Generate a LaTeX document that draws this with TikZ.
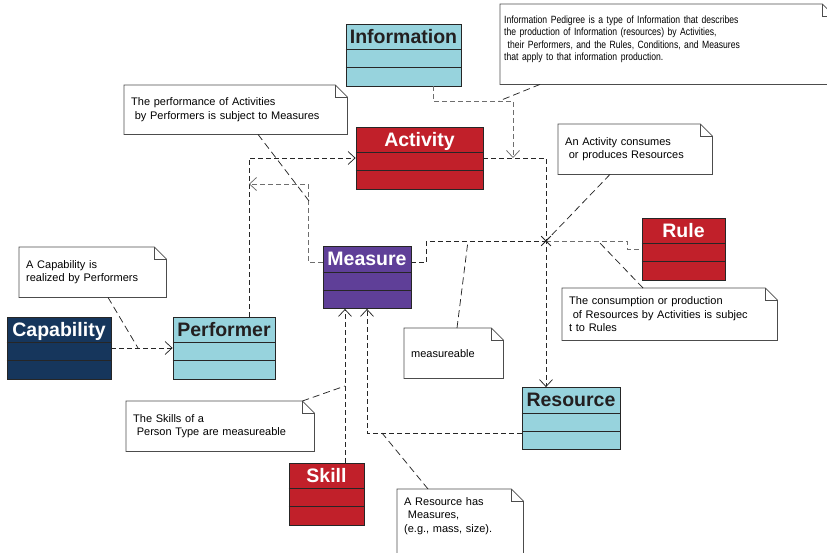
\documentclass[tikz,border=0pt]{standalone}
\usepackage{fontspec}
\setmainfont{Liberation Sans}
\newfontfamily\narrowfont[FakeStretch=0.82]{Liberation Sans}
\usetikzlibrary{positioning,arrows.meta,shapes.misc}

\definecolor{classblue}{HTML}{97D3DD}
\definecolor{classred}{HTML}{C1202A}
\definecolor{classpurple}{HTML}{5F3F98}
\definecolor{classnavy}{HTML}{16365C}
\definecolor{titledark}{HTML}{231F20}
\definecolor{linkgrey}{HTML}{6E6E6E}

\tikzset{%
  every class/.style={
    draw=black!85,
    line width=0.8pt,
    minimum height=62pt,
    inner sep=0pt
  },
  class line/.style={draw=black!85, line width=0.8pt},
  class title/.style={
    anchor=north,
    inner sep=5.5pt,
    text height=14pt,
    text depth=4pt,
    font=\fontsize{19.5}{22}\selectfont\bfseries
  },
  note/.style={
    anchor=north west,
    align=left,
    inner xsep=7pt,
    inner ysep=0pt,
    font=\fontsize{11}{13.4}\selectfont
  },
  note line/.style={draw=black!70, line width=0.7pt},
  link/.style={
    draw=black!85,
    line width=0.75pt,
    dash pattern=on 5pt off 3pt
  },
  link grey/.style={link, draw=linkgrey},
  note link/.style={link, dash pattern=on 7pt off 4pt},
}

\newcommand{\notefold}[1]{%
  \draw [note line] (#1.north west) -- ([xshift=-12pt]#1.north east)
    -- ([yshift=-12pt]#1.north east) -- (#1.south east) -- (#1.south west) -- cycle;
  \draw [note line] ([xshift=-12pt]#1.north east) -- ++(0,-12pt)
    -- ([yshift=-12pt]#1.north east);
}

\begin{document}
\begin{tikzpicture}[x=1pt, y=-1pt, >={Straight Barb[length=7pt,width=13pt]}]
\useasboundingbox (0,0) rectangle (827,552);

% classes
\foreach \n/\l/\x/\y/\w/\f/\tc in {%
    info/Information/403.5/55/115/classblue/titledark,
    act/Activity/419.5/158/127/classred/white,
    meas/Measure/367/277.5/88/classpurple/white,
    rule/Rule/683.5/249/83/classred/white,
    perf/Performer/224/348/102/classblue/titledark,
    cap/Capability/59/348/104/classnavy/white,
    res/Resource/571/418.5/98/classblue/titledark,
    skill/Skill/326.5/494/75/classred/white}
{
  \node [every class, fill=\f, minimum width=\w pt,
    label={[class title, text=\tc]north:\l}] (\n) at (\x,\y) {};
  \draw [class line] ([yshift=-26pt]\n.north west) -- ([yshift=-26pt]\n.north east);
  \draw [class line] ([yshift=-44pt]\n.north west) -- ([yshift=-44pt]\n.north east);
}

% notes
\node [note, text width=326pt, minimum height=80pt, inner xsep=4pt,
  font=\narrowfont\fontsize{10.5}{12.4}\selectfont] (pedigree) at (500,4)
  {Information Pedigree is a type of Information that describes\\
   the production of Information (resources) by Activities,\\
   \mbox{} their Performers, and the Rules, Conditions, and Measures\\
   that apply to that information production.\\\mbox{}};
\node [note, text width=209pt, minimum height=49pt] (perfnote) at (124,85)
  {The performance of Activities\\\mbox{} by Performers is subject to Measures};
\node [note, text width=140pt, minimum height=50pt] (consumes) at (558,124)
  {An Activity consumes\\\mbox{} or produces Resources};
\node [note, text width=201pt, minimum height=52pt] (consumption) at (562,288)
  {The consumption or production\\\mbox{} of Resources by Activities is subjec\\t to Rules};
\node [note, text width=133pt, minimum height=50pt] (capnote) at (19,247)
  {A Capability is\\realized by Performers};
\node [note, text width=85pt, minimum height=50pt] (measurable) at (404,328)
  {measureable};
\node [note, text width=174pt, minimum height=50pt] (skillnote) at (126,401)
  {The Skills of a\\\mbox{} Person Type are measureable};
\node [note, text width=112pt, minimum height=78pt] (resnote) at (397,489)
  {A Resource has\\\mbox{} Measures,\\(e.g., mass, size).\\\mbox{}\\\mbox{}};

\foreach \n in {pedigree,perfnote,consumes,consumption,capnote,measurable,skillnote,resnote}
  \notefold{\n};

% points on the association lines
\coordinate (junction) at (546,241);
\coordinate (perf-act) at (249,184);
\coordinate (act-res) at (513,158);
\coordinate (info-bend) at (499,101);
\coordinate (meas-bend) at (309,201);
\coordinate (rule-bend) at (598,241);
\coordinate (meas-rule) at (468,241);
\coordinate (cap-perf) at (138,348);
\coordinate (skill-meas) at (345,386);
\coordinate (res-meas) at (382,433);

% associations
\draw [link, ->] ([xshift=25pt]perf.north) |- (act.west);
\draw [link grey, ->] ([yshift=15pt]meas.west) -- ++(-14,0) |- (perf-act);
\draw [link, ->] (act.east) -| ([xshift=-25pt]res.north);
\draw [link grey, ->] ([xshift=29.5pt]info.south) -- ++(0,15) -| (act-res);
\draw [link] ([yshift=15pt]meas.east) -- ++(15,0) |- (junction);
\draw [link grey] (junction) -- ++(81,0) |- (rule.west);
\draw [link, ->] (cap.east) -- (perf.west);
\draw [link, ->] ([xshift=18.5pt]skill.north) -- ([xshift=18.5pt]skill.north |- meas.south);
\draw [link, ->] ([yshift=-14.5pt]res.west) -| (meas.south);

\node [cross out, draw=black!85, line width=0.75pt, minimum size=9pt, inner sep=0pt]
  (junction-x) at (junction) {};

% note anchors
\draw [note link] ([xshift=40pt]pedigree.south west) -- (info-bend);
\draw [note link] ([xshift=134pt]perfnote.south west) -- (meas-bend);
\draw [note link] ([xshift=52pt]consumes.south west) -- (junction);
\draw [note link] ([xshift=81pt]consumption.north west) -- (rule-bend);
\draw [note link] ([xshift=53pt]measurable.north west) -- (meas-rule);
\draw [note link] ([xshift=89pt]capnote.south west) -- (cap-perf);
\draw [note link] ([xshift=-12pt]skillnote.north east) -- (skill-meas);
\draw [note link] ([xshift=31pt]resnote.north west) -- (res-meas);

\end{tikzpicture}
\end{document}
